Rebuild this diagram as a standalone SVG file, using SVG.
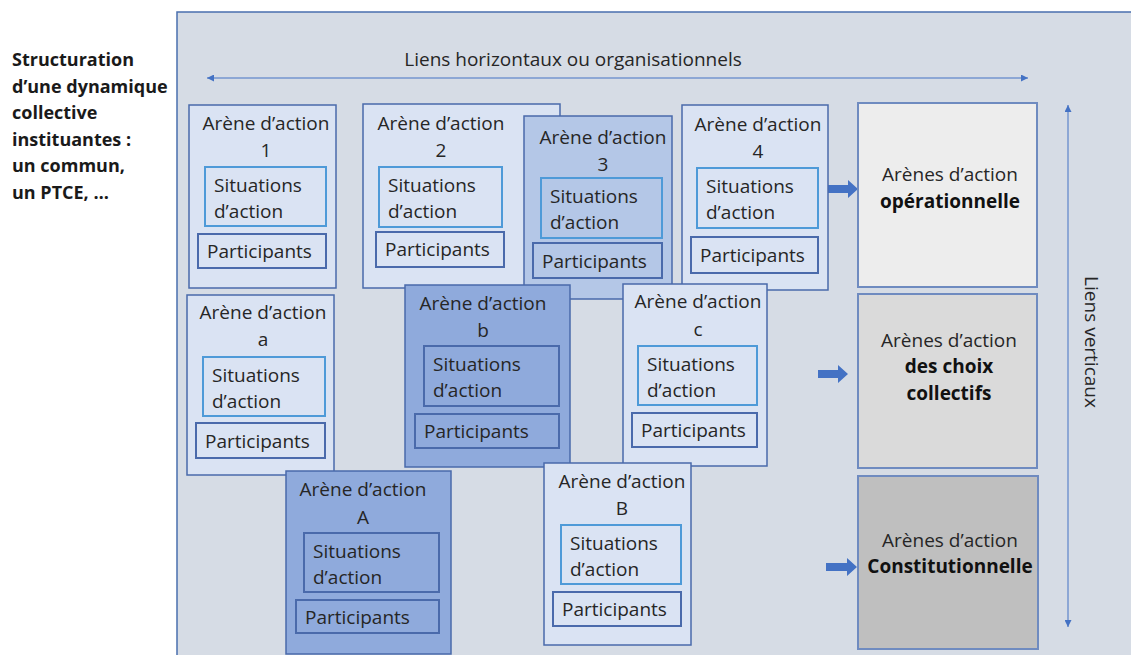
<svg xmlns="http://www.w3.org/2000/svg" width="1131" height="655" viewBox="0 0 1131 655">
<style>
text{font-family:"Open Sans","Liberation Sans",sans-serif;font-size:19px;fill:#262626}
.lt{font-weight:bold;font-size:18px;fill:#1a1a1a}
.b{font-weight:bold;fill:#111}
.m{text-anchor:middle}
.ar{stroke:#4a6aab;stroke-width:1.5}
.f1{fill:#dae3f3}.f2{fill:#b4c7e7}.f3{fill:#8faadc}
.sit{fill:none;stroke:#4e9ad8;stroke-width:2}
.sitd{fill:none;stroke:#4a6aab;stroke-width:2}
.par{fill:none;stroke:#4a6aab;stroke-width:2}
.rb{stroke:#6f8bc0;stroke-width:2}
.blk{fill:#4472c4}
.ln{stroke:#4472c4;stroke-width:1;fill:none}
</style>
<defs>
<marker id="ah" viewBox="0 0 10 10" refX="10" refY="5" markerWidth="7" markerHeight="7" orient="auto-start-reverse" markerUnits="userSpaceOnUse"><path d="M0,0 L10,5 L0,10 z" fill="#4472c4"/></marker>
</defs>
<rect width="1131" height="655" fill="#ffffff"/>
<rect x="177" y="12" width="970" height="660" fill="#d6dce5" stroke="#4a6fae" stroke-width="1.5"/>
<g id="title">
<text class="lt" x="12" y="66">Structuration</text>
<text class="lt" x="12" y="93">d’une dynamique</text>
<text class="lt" x="12" y="119">collective</text>
<text class="lt" x="12" y="146">instituantes :</text>
<text class="lt" x="12" y="172">un commun,</text>
<text class="lt" x="12" y="199">un PTCE, …</text>
</g>
<g id="connectors">
<line class="ln" x1="207" y1="78" x2="1028" y2="78" marker-start="url(#ah)" marker-end="url(#ah)"/>
<line class="ln" x1="1068" y1="105" x2="1068" y2="627" marker-start="url(#ah)" marker-end="url(#ah)"/>
<polygon class="blk" points="828,185 848,185 848,180 858,189 848,198 848,193 828,193"/>
<polygon class="blk" points="818,370 838,370 838,365 848,374 838,383 838,378 818,378"/>
<polygon class="blk" points="826,563 847,563 847,558 857,567 847,576 847,571 826,571"/>
</g>
<text class="m" x="573" y="66">Liens horizontaux ou organisationnels</text>
<text class="m" transform="translate(1085,342) rotate(90)">Liens verticaux</text>
<g id="arena1">
<rect class="ar f1" x="189" y="105" width="147" height="183"/>
<text class="m" x="266" y="130">Arène d’action</text><text class="m" x="266" y="157">1</text>
<rect class="sit" x="205" y="167" width="121" height="59"/>
<text x="214" y="192">Situations</text><text x="214" y="218">d’action</text>
<rect class="par" x="198" y="234" width="128" height="34"/>
<text x="207" y="258">Participants</text>
</g>
<g id="arena2">
<rect class="ar f1" x="363" y="104" width="197" height="184"/>
<text class="m" x="441" y="130">Arène d’action</text><text class="m" x="441" y="157">2</text>
<rect class="sit" x="379" y="167" width="123" height="60"/>
<text x="388" y="192">Situations</text><text x="388" y="218">d’action</text>
<rect class="par" x="376" y="232" width="128" height="35"/>
<text x="385" y="256">Participants</text>
</g>
<g id="arena3">
<rect class="ar f2" x="524" y="116" width="148" height="183"/>
<text class="m" x="603" y="144">Arène d’action</text><text class="m" x="603" y="171">3</text>
<rect class="sit" x="541" y="178" width="121" height="60"/>
<text x="550" y="203">Situations</text><text x="550" y="229">d’action</text>
<rect class="par" x="533" y="243" width="129" height="35"/>
<text x="542" y="268">Participants</text>
</g>
<g id="arena4">
<rect class="ar f1" x="682" y="105" width="146" height="185"/>
<text class="m" x="758" y="131">Arène d’action</text><text class="m" x="758" y="158">4</text>
<rect class="sit" x="697" y="168" width="121" height="60"/>
<text x="706" y="193">Situations</text><text x="706" y="219">d’action</text>
<rect class="par" x="691" y="237" width="127" height="36"/>
<text x="700" y="262">Participants</text>
</g>
<g id="arena-a">
<rect class="ar f1" x="187" y="295" width="147" height="180"/>
<text class="m" x="263" y="319">Arène d’action</text><text class="m" x="263" y="346">a</text>
<rect class="sit" x="203" y="357" width="122" height="59"/>
<text x="212" y="382">Situations</text><text x="212" y="408">d’action</text>
<rect class="par" x="196" y="423" width="129" height="35"/>
<text x="205" y="448">Participants</text>
</g>
<g id="arena-b">
<rect class="ar f3" x="405" y="285" width="165" height="182"/>
<text class="m" x="483" y="310">Arène d’action</text><text class="m" x="483" y="337">b</text>
<rect class="sitd" x="424" y="346" width="135" height="60"/>
<text x="433" y="371">Situations</text><text x="433" y="397">d’action</text>
<rect class="par" x="415" y="414" width="144" height="34"/>
<text x="424" y="438">Participants</text>
</g>
<g id="arena-c">
<rect class="ar f1" x="623" y="284" width="144" height="182"/>
<text class="m" x="698" y="308">Arène d’action</text><text class="m" x="698" y="336">c</text>
<rect class="sit" x="638" y="346" width="119" height="59"/>
<text x="647" y="371">Situations</text><text x="647" y="397">d’action</text>
<rect class="par" x="632" y="413" width="125" height="34"/>
<text x="641" y="437">Participants</text>
</g>
<g id="arena-A">
<rect class="ar f3" x="286" y="471" width="165" height="183"/>
<text class="m" x="363" y="496">Arène d’action</text><text class="m" x="363" y="524">A</text>
<rect class="sitd" x="304" y="533" width="135" height="59"/>
<text x="313" y="558">Situations</text><text x="313" y="584">d’action</text>
<rect class="par" x="296" y="600" width="143" height="33"/>
<text x="305" y="624">Participants</text>
</g>
<g id="arena-B">
<rect class="ar f1" x="544" y="463" width="147" height="182"/>
<text class="m" x="622" y="488">Arène d’action</text><text class="m" x="622" y="515">B</text>
<rect class="sit" x="561" y="525" width="120" height="59"/>
<text x="570" y="550">Situations</text><text x="570" y="576">d’action</text>
<rect class="par" x="553" y="592" width="128" height="34"/>
<text x="562" y="616">Participants</text>
</g>
<g id="op">
<rect class="rb" x="858" y="103" width="179" height="184" fill="#ededed"/>
<text class="m" x="950" y="181">Arènes d’action</text>
<text class="m b" x="950" y="208">opérationnelle</text>
</g>
<g id="choix">
<rect class="rb" x="858" y="294" width="179" height="174" fill="#dadada"/>
<text class="m" x="949" y="347">Arènes d’action</text>
<text class="m b" x="949" y="373">des choix</text>
<text class="m b" x="949" y="400">collectifs</text>
</g>
<g id="const">
<rect class="rb" x="858" y="476" width="180" height="173" fill="#bfbfbf"/>
<text class="m" x="950" y="547">Arènes d’action</text>
<text class="m b" x="950" y="573">Constitutionnelle</text>
</g>
</svg>
